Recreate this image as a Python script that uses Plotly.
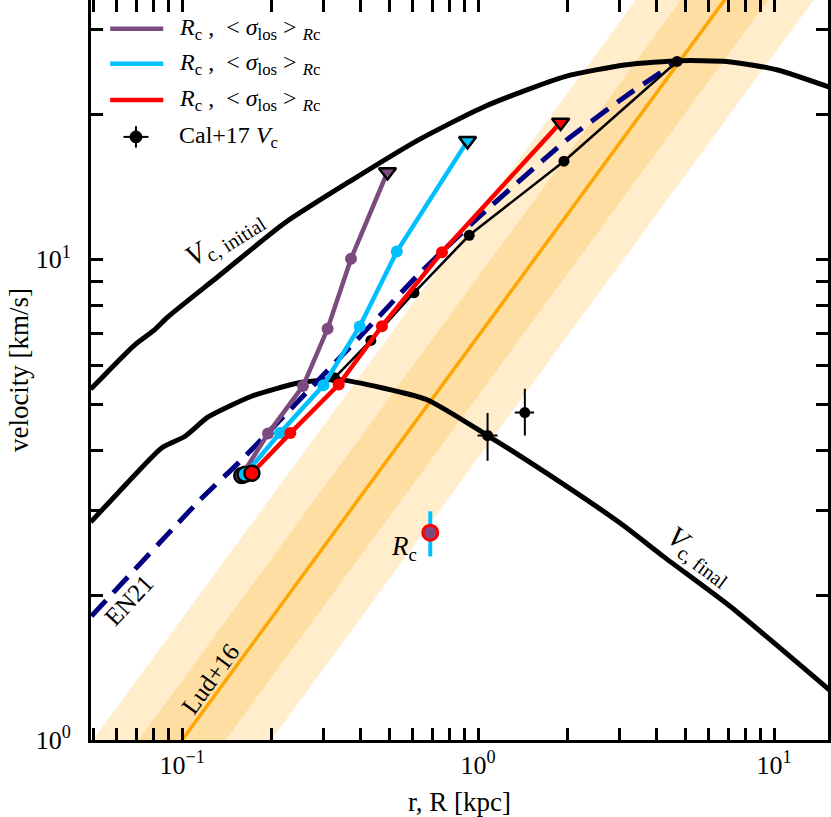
import math
import plotly.graph_objects as go

# ---- data (r in kpc, v in km/s) ----
# Lud+16 relation and its two scatter bands
lud_r = [0.03, 20.0]
lud_v = [0.364, 85.7]
lud_inner_lo = [0.274, 64.4]
lud_inner_hi = [0.484, 114.0]
lud_outer_lo = [0.203, 47.9]
lud_outer_hi = [0.652, 153.0]

# circular velocity curves
vi_r = [0.0491, 0.0692, 0.0806, 0.0897, 0.1323, 0.222, 0.3736, 0.627, 1.053, 1.963, 3.17, 4.80, 6.9, 10.2, 15.4]
vi_v = [5.37, 6.64, 7.13, 7.60, 9.21, 11.9, 14.6, 17.7, 20.8, 24.0, 25.4, 25.9, 25.8, 24.8, 22.8]
vf_r = [0.0491, 0.0608, 0.0852, 0.102, 0.1224, 0.1715, 0.2465, 0.3406, 0.669, 1.076, 1.703, 3.01, 4.22, 7.08, 15.4]
vf_v = [2.84, 3.27, 4.05, 4.28, 4.70, 5.19, 5.53, 5.62, 5.11, 4.30, 3.59, 2.83, 2.41, 1.90, 1.27]

# EN21 relation
en_r = [0.0494, 0.115, 0.159, 0.42, 0.635, 1.013, 1.989, 3.17, 4.7]
en_v = [1.81, 3.16, 3.83, 7.14, 9.36, 12.3, 17.7, 21.9, 25.8]

# R_c, <sigma_los> tracks (first = start, last = end triangle)
pu_r = [0.159, 0.195, 0.256, 0.310, 0.372, 0.494]
pu_v = [3.55, 4.34, 5.45, 7.17, 10.03, 15.2]
cy_r = [0.163, 0.214, 0.300, 0.398, 0.531, 0.921]
cy_v = [3.57, 4.35, 5.47, 7.25, 10.38, 17.64]
rd_r = [0.172, 0.232, 0.338, 0.473, 0.755, 1.90]
rd_v = [3.59, 4.35, 5.49, 7.26, 10.35, 19.27]

# Cal+17 profile and points with errors
cal_r = [0.327, 0.434, 0.607, 0.933, 1.95, 4.7]
cal_v = [5.67, 6.78, 8.52, 11.22, 16.0, 25.8]
ce_r = [1.076, 1.438]
ce_v = [4.30, 4.80]
ce_v_up = [0.49, 0.58]
ce_v_dn = [0.49, 0.50]
ce_r_up = [0.087, 0.108]
ce_r_dn = [0.081, 0.108]

# single R_c point
rc_r = [0.689]
rc_v = [2.70]
rc_err = [0.29]

x_major = [0.1, 1, 10]
x_major_text = ["10<sup>\u22121</sup>", "10<sup>0</sup>", "10<sup>1</sup>"]
x_minor = [0.05, 0.06, 0.07, 0.08, 0.09, 0.2, 0.3, 0.4, 0.5, 0.6, 0.7, 0.8, 0.9,
           2, 3, 4, 5, 6, 7, 8, 9]
y_major = [1, 10]
y_major_text = ["10<sup>0</sup>", "10<sup>1</sup>"]
y_minor = [2, 3, 4, 5, 6, 7, 8, 9, 20, 30]

PURPLE = "#7D4A7F"
CYAN = "#00BFFF"
RED = "#FF0000"
NAVY = "#000080"
ORANGE = "#FFA500"
FONT = "Liberation Serif"

LEG_TEXT = "<i>R</i><sub>c</sub> ,  &lt; <i>\u03c3</i><sub>los</sub> &gt; <sub><i>R</i>c</sub>"

fig = go.Figure()

# Lud+16 bands
for lo, hi in [(lud_outer_lo, lud_outer_hi), (lud_inner_lo, lud_inner_hi)]:
    fig.add_trace(go.Scatter(
        x=lud_r + lud_r[::-1], y=lo + hi[::-1], fill="toself",
        fillcolor="rgba(255,165,0,0.2)", line=dict(width=0),
        mode="lines", hoverinfo="skip"))
fig.add_trace(go.Scatter(x=lud_r, y=lud_v, mode="lines", line=dict(color=ORANGE, width=3.5)))

# velocity curves
fig.add_trace(go.Scatter(x=vi_r, y=vi_v, mode="lines",
                         line=dict(color="black", width=5, shape="spline", smoothing=0.6)))
fig.add_trace(go.Scatter(x=vf_r, y=vf_v, mode="lines",
                         line=dict(color="black", width=5, shape="spline", smoothing=0.5)))

# EN21
fig.add_trace(go.Scatter(x=en_r, y=en_v, mode="lines",
                         line=dict(color=NAVY, width=5, dash="21px,11px", shape="spline", smoothing=0.5)))

# Cal+17 profile
fig.add_trace(go.Scatter(x=cal_r, y=cal_v, mode="lines+markers",
                         line=dict(color="black", width=2.5), marker=dict(color="black", size=11)))

# tracks
for rr, vv, col in [(pu_r, pu_v, PURPLE), (cy_r, cy_v, CYAN), (rd_r, rd_v, RED)]:
    fig.add_trace(go.Scatter(x=rr, y=vv, mode="lines", line=dict(color=col, width=4.5)))
    fig.add_trace(go.Scatter(x=rr[1:-1], y=vv[1:-1], mode="markers",
                             marker=dict(color=col, size=12)))
    fig.add_trace(go.Scatter(x=rr[:1], y=vv[:1], mode="markers",
                             marker=dict(color=col, size=15, line=dict(color="black", width=2.5))))
    fig.add_trace(go.Scatter(x=rr[-1:], y=vv[-1:], mode="markers",
                             marker=dict(color=col, size=15, symbol="triangle-down",
                                         line=dict(color="black", width=2.5))))

# R_c point
fig.add_trace(go.Scatter(x=rc_r, y=rc_v, mode="markers",
                         marker=dict(color=PURPLE, size=15, line=dict(color=RED, width=3)),
                         error_y=dict(type="data", array=rc_err, color=CYAN, thickness=4, width=0)))

# Cal+17 points with error bars
fig.add_trace(go.Scatter(
    x=ce_r, y=ce_v, mode="markers", marker=dict(color="black", size=11),
    error_y=dict(type="data", array=ce_v_up, arrayminus=ce_v_dn, color="black", thickness=2, width=0),
    error_x=dict(type="data", array=ce_r_up, arrayminus=ce_r_dn, color="black", thickness=2, width=0)))

# legend drawn by hand (paper coordinates) so the error-bar symbol can be shown
leg_rows = [0.961, 0.914, 0.865, 0.815]
leg_items = [(PURPLE, LEG_TEXT), (CYAN, LEG_TEXT), (RED, LEG_TEXT), (None, "Cal+17 <i>V</i><sub>c</sub>")]
for yy, (col, txt) in zip(leg_rows, leg_items):
    if col is not None:
        fig.add_shape(type="line", xref="paper", yref="paper", x0=0.026, x1=0.098, y0=yy, y1=yy,
                      line=dict(color=col, width=4.5))
    else:
        fig.add_shape(type="line", xref="paper", yref="paper", x0=0.044, x1=0.078, y0=yy, y1=yy,
                      line=dict(color="black", width=2))
        fig.add_shape(type="line", xref="paper", yref="paper", x0=0.061, x1=0.061,
                      y0=yy - 0.0145, y1=yy + 0.0145, line=dict(color="black", width=2))
        fig.add_shape(type="circle", xref="paper", yref="paper", xsizemode="pixel", ysizemode="pixel",
                      xanchor=0.061, yanchor=yy, x0=-6, x1=6, y0=-6, y1=6,
                      fillcolor="black", line=dict(color="black", width=1))
    fig.add_annotation(xref="paper", yref="paper", x=0.117, y=yy, xanchor="left", yanchor="middle",
                       text=txt, showarrow=False, font=dict(family=FONT, size=24, color="black"))

# text labels on the curves
labels = [
    ("<i>V</i><sub>c, initial</sub>", 0.139, 11.1, -32, 29),
    ("<i>V</i><sub>c, final</sub>", 5.61, 2.42, 37, 29),
    ("EN21", 0.066, 1.95, -47, 25),
    ("Lud+16", 0.125, 1.34, -54, 25),
    ("<i>R</i><sub>c</sub>", 0.56, 2.51, 0, 27),
]
for txt, lx, ly, ang, fs in labels:
    fig.add_annotation(x=math.log10(lx), y=math.log10(ly), text=txt, textangle=ang,
                       showarrow=False, font=dict(family=FONT, size=fs, color="black"))

tick_style = dict(ticks="inside", ticklen=12, tickwidth=2.5, tickcolor="black")
axis_common = dict(
    type="log", showline=True, linecolor="black", linewidth=3, mirror="ticks",
    showgrid=False, zeroline=False, tickfont=dict(family=FONT, size=26, color="black"),
    **tick_style,
)
fig.update_xaxes(**axis_common, range=[-1.308, 1.182], tickmode="array", tickvals=x_major,
                 ticktext=x_major_text, ticklabelstandoff=0, automargin=False,
                 minor=dict(tickmode="array", tickvals=x_minor, showgrid=False, **tick_style),
                 title=dict(text="r, R [kpc]", font=dict(family=FONT, size=27, color="black")))
fig.update_yaxes(**axis_common, range=[0, 1.5395], tickmode="array", tickvals=y_major,
                 ticktext=y_major_text, ticklabelstandoff=12,
                 minor=dict(tickmode="array", tickvals=y_minor, showgrid=False, **tick_style),
                 title=dict(text="velocity [km/s]", font=dict(family=FONT, size=27, color="black"), standoff=0))

fig.update_layout(
    width=831, height=817,
    margin=dict(l=91, r=3, t=0, b=77),
    plot_bgcolor="white", paper_bgcolor="white",
    showlegend=False, hovermode=False,
)

fig.write_html("out.html", config={"displayModeBar": False},
               post_script="document.body.style.margin='0px';")
